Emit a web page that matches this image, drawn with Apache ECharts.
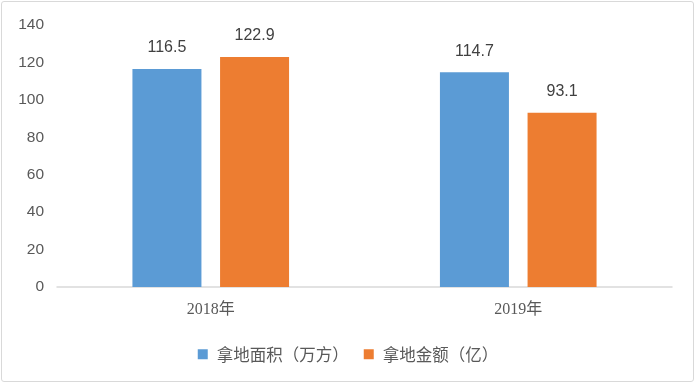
<!DOCTYPE html>
<html><head><meta charset="utf-8">
<script src="https://cdn.jsdelivr.net/npm/echarts@6/dist/echarts.min.js"></script>
<style>html,body{margin:0;padding:0;background:#fff}#c{width:696px;height:384px}
#b{position:absolute;left:1px;top:1px;width:691px;height:379px;border:1.5px solid #d9d9d9;border-radius:3px;pointer-events:none}</style>
</head><body><div id="c"></div><div id="b"></div>
<script>
var categories = ['2018年', '2019年'];
var areaValues = [116.5, 114.7];
var amountValues = [122.9, 93.1];
var seriesNames = ['拿地面积（万方）', '拿地金额（亿）'];
var yTicks = {min: 0, max: 140, interval: 20};

var chart = echarts.init(document.getElementById('c'));
var lbl = {show: true, position: 'top', distance: 13, color: '#404040', fontSize: 16, fontFamily: 'Liberation Sans, sans-serif'};
chart.setOption({
  animation: false,
  grid: {left: 57, right: 24, top: 25, bottom: 97},
  legend: {
    top: 341, left: 'center', itemWidth: 10, itemHeight: 10, itemGap: 15,
    icon: 'rect',
    textStyle: {color: '#595959', fontSize: 16.5, fontFamily: 'Noto Sans CJK SC', padding: [0, 0, 0, 4]},
    data: seriesNames
  },
  xAxis: {
    type: 'category', data: categories,
    axisLine: {lineStyle: {color: '#d9d9d9', width: 1.5}},
    axisTick: {show: false},
    axisLabel: {color: '#595959', fontSize: 16, margin: 15, fontFamily: 'Liberation Serif, Noto Sans CJK SC'}
  },
  yAxis: {
    type: 'value', min: yTicks.min, max: yTicks.max, interval: yTicks.interval,
    splitLine: {show: false}, axisLine: {show: false}, axisTick: {show: false},
    axisLabel: {color: '#595959', fontSize: 15.5, margin: 13, fontFamily: 'Liberation Sans, sans-serif'}
  },
  series: [
    {name: seriesNames[0], type: 'bar', data: areaValues, barWidth: 69, barGap: '27%',
     itemStyle: {color: '#5b9bd5'}, label: lbl},
    {name: seriesNames[1], type: 'bar', data: amountValues, barWidth: 69,
     itemStyle: {color: '#ed7d31'}, label: lbl}
  ]
});
</script></body></html>
